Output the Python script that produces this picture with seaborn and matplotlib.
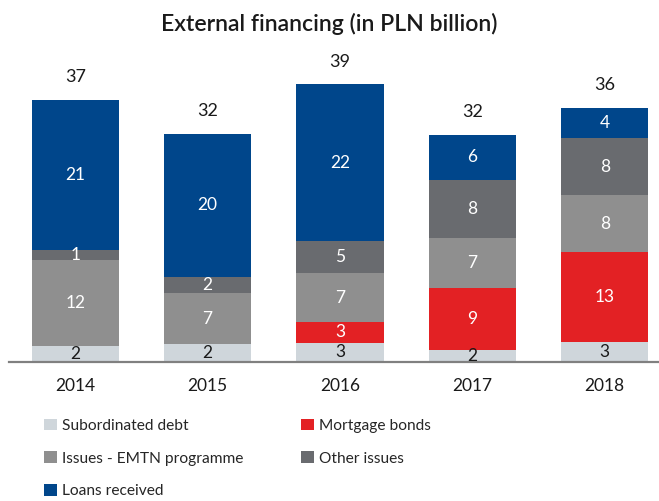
import numpy as np
import pandas as pd
import seaborn as sns
import matplotlib.pyplot as plt
from matplotlib.patches import Patch

# values (PLN bn)
years = ["2014", "2015", "2016", "2017", "2018"]
subordinated = [2.25, 2.4, 2.6, 1.6, 2.7]
mortgage = [0.0, 0.0, 3.0, 8.7, 12.7]
emtn = [12.1, 7.3, 6.8, 7.1, 8.0]
other_issues = [1.4, 2.2, 4.6, 8.2, 8.0]
loans = [21.1, 20.2, 22.0, 6.3, 4.3]

series_names = ["Subordinated debt", "Mortgage bonds", "Issues - EMTN programme",
                "Other issues", "Loans received"]
colors = ["#CFD6DB", "#E32124", "#8F8F8F", "#696B6F", "#00468B"]
label_colors = ["#1a1a1a", "white", "white", "white", "white"]

sns.set_style("white")
plt.rcParams['font.family'] = ['Lato', 'DejaVu Sans']

fig = plt.figure(figsize=(6.59, 5.01), dpi=100)
ax = fig.add_axes([9 / 659, 0.2784, 650 / 659, 0.602])

data = [subordinated, mortgage, emtn, other_issues, loans]
bottom = np.zeros(len(years))
for vals, col, lcol in zip(data, colors, label_colors):
    vals = np.array(vals)
    sns.barplot(x=years, y=vals, bottom=bottom, color=col, saturation=1,
                width=0.66, ax=ax, edgecolor="none")
    for i, v in enumerate(vals):
        if v > 0:
            ax.text(i, bottom[i] + v / 2, f"{round(v):d}", ha="center", va="center",
                    color=lcol, fontsize=12.5)
    bottom += vals

# totals on top
for i, t in enumerate(bottom):
    ax.text(i, t + 3.2, f"{round(t):d}", ha="center", va="center",
            color="#1a1a1a", fontsize=13)

ax.set_xlim(-0.5, 4.41)
ax.set_ylim(0, 42.46)
ax.set_yticks([])
ax.set_ylabel("")
sns.despine(ax=ax, left=True)
ax.spines["bottom"].set_color("#808080")
ax.spines["bottom"].set_linewidth(1.6)
ax.tick_params(axis="x", length=0, pad=12, labelsize=12.5, labelcolor="#1a1a1a")

fig.text(0.5, 0.952, "External financing (in PLN billion)", ha="center", va="center",
         fontsize=16.6, fontweight="semibold", color="#1a1a1a")

order = [0, 2, 4, 1, 3]
handles = [Patch(facecolor=colors[k], edgecolor="none") for k in order]
labels = [series_names[k] for k in order]
fig.legend(handles, labels, loc="upper left", bbox_to_anchor=(0.058, 0.177),
           ncol=2, frameon=False, fontsize=11.2, handlelength=0.8, handleheight=0.8,
           handletextpad=0.35, labelspacing=1.18, columnspacing=3.7, borderaxespad=0)

fig.savefig("out.png", dpi=100)
